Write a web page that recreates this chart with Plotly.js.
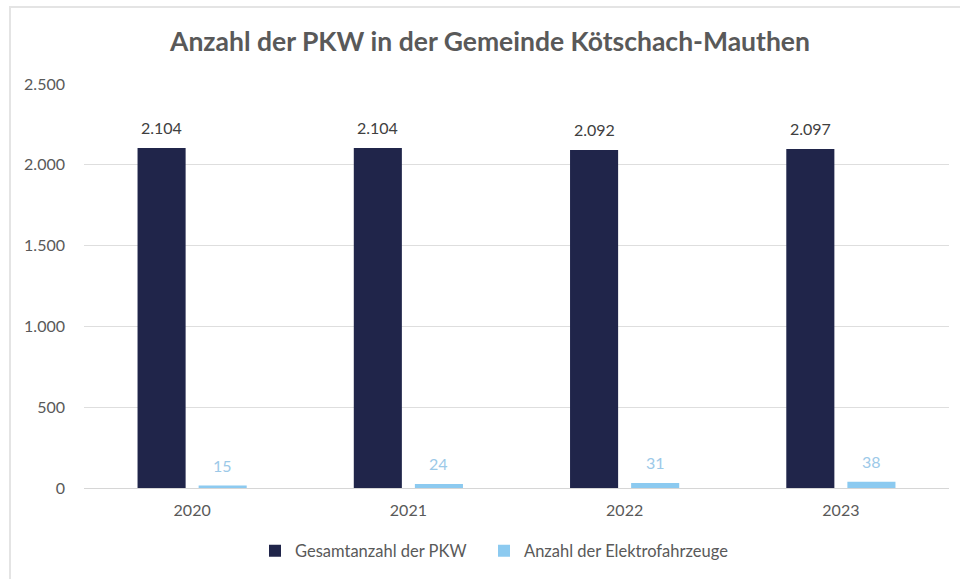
<!DOCTYPE html>
<html>
<head>
<meta charset="utf-8">
<script src="https://cdn.plot.ly/plotly-3.0.1.min.js"></script>
<style>
  html, body { margin: 0; padding: 0; background: #ffffff; }
  #wrap { position: relative; width: 960px; height: 579px; overflow: hidden; }
  #frame { position: absolute; left: 9px; top: 6px; width: 1000px; height: 700px;
           border: 2px solid #e4e4e4; box-sizing: border-box; pointer-events: none; }
  #chart { position: absolute; left: 0; top: 0; width: 960px; height: 579px; }
</style>
</head>
<body>
<div id="wrap">
  <div id="chart"></div>
  <div id="frame"></div>
</div>
<script>
// Registered passenger cars in Kötschach-Mauthen, per year
const years = ['2020', '2021', '2022', '2023'];
const totalCars = [2104, 2104, 2092, 2097];
const electricCars = [15, 24, 31, 38];
const seriesNames = ['Gesamtanzahl der PKW', 'Anzahl der Elektrofahrzeuge'];
const yTicks = [0, 500, 1000, 1500, 2000, 2500];

const darkBlue = '#20254a';
const lightBlue = '#8ccaf0';
const textGrey = '#595959';
const fontFamily = 'Lato, "Open Sans", sans-serif';

const fmt = v => v.toLocaleString('de-DE');
const slots = years.map((_, i) => i);

const traces = [
  { type: 'bar', name: seriesNames[0], x: slots, y: totalCars,
    marker: { color: darkBlue }, legend: 'legend' },
  { type: 'bar', name: seriesNames[1], x: slots, y: electricCars,
    marker: { color: lightBlue }, legend: 'legend2' }
];

// Value labels above each bar, shifted onto their bar within the group
const annotations = [];
slots.forEach(i => {
  annotations.push({ x: i, y: totalCars[i], xref: 'x', yref: 'y', text: fmt(totalCars[i]),
    showarrow: false, xshift: -30.5, yanchor: 'bottom', yshift: 9,
    font: { family: fontFamily, size: 16, color: '#404040' } });
  annotations.push({ x: i, y: electricCars[i], xref: 'x', yref: 'y', text: fmt(electricCars[i]),
    showarrow: false, xshift: 30.5, yanchor: 'bottom', yshift: 9,
    font: { family: fontFamily, size: 16, color: '#9cc9e8' } });
});

// One legend box per series so the two entries can sit at their own spots
const legendBase = {
  orientation: 'h', xref: 'container', xanchor: 'left',
  y: 1 - 551 / 579, yref: 'container', yanchor: 'middle',
  font: { size: 16.5, color: textGrey }, itemwidth: 30, bgcolor: 'rgba(0,0,0,0)'
};

const layout = {
  width: 960, height: 579,
  margin: { l: 84, r: 11, t: 84, b: 91 },
  paper_bgcolor: 'rgba(0,0,0,0)', plot_bgcolor: 'rgba(0,0,0,0)',
  separators: ',.',
  font: { family: fontFamily, size: 16, color: textGrey },
  title: { text: 'Anzahl der PKW in der Gemeinde Kötschach-Mauthen',
    x: 490 / 960, xanchor: 'center', y: 1 - 42 / 579, yanchor: 'middle', yref: 'container',
    font: { family: fontFamily, size: 26.5, color: textGrey, weight: 'bold' } },
  barmode: 'group', bargap: 0.435, bargroupgap: 0.213,
  xaxis: { type: 'linear', range: [-0.5, years.length - 0.5], fixedrange: true,
    tickvals: slots, ticktext: years,
    showgrid: false, zeroline: false, showline: false,
    ticks: '', ticklabelstandoff: 11, tickfont: { size: 16, color: textGrey } },
  yaxis: { range: [0, 2500], tickvals: yTicks, tickformat: ',d',
    showgrid: true, gridcolor: '#dedede', gridwidth: 1,
    zeroline: true, zerolinecolor: '#d6d6d6', zerolinewidth: 1,
    showline: false, ticks: '', ticklabelstandoff: 18,
    tickfont: { size: 16, color: textGrey } },
  legend: Object.assign({}, legendBase, { x: 255 / 960 }),
  legend2: Object.assign({}, legendBase, { x: 484 / 960 }),
  annotations: annotations,
  showlegend: true
};

Plotly.newPlot('chart', traces, layout, { displayModeBar: false, staticPlot: true });
</script>
</body>
</html>
